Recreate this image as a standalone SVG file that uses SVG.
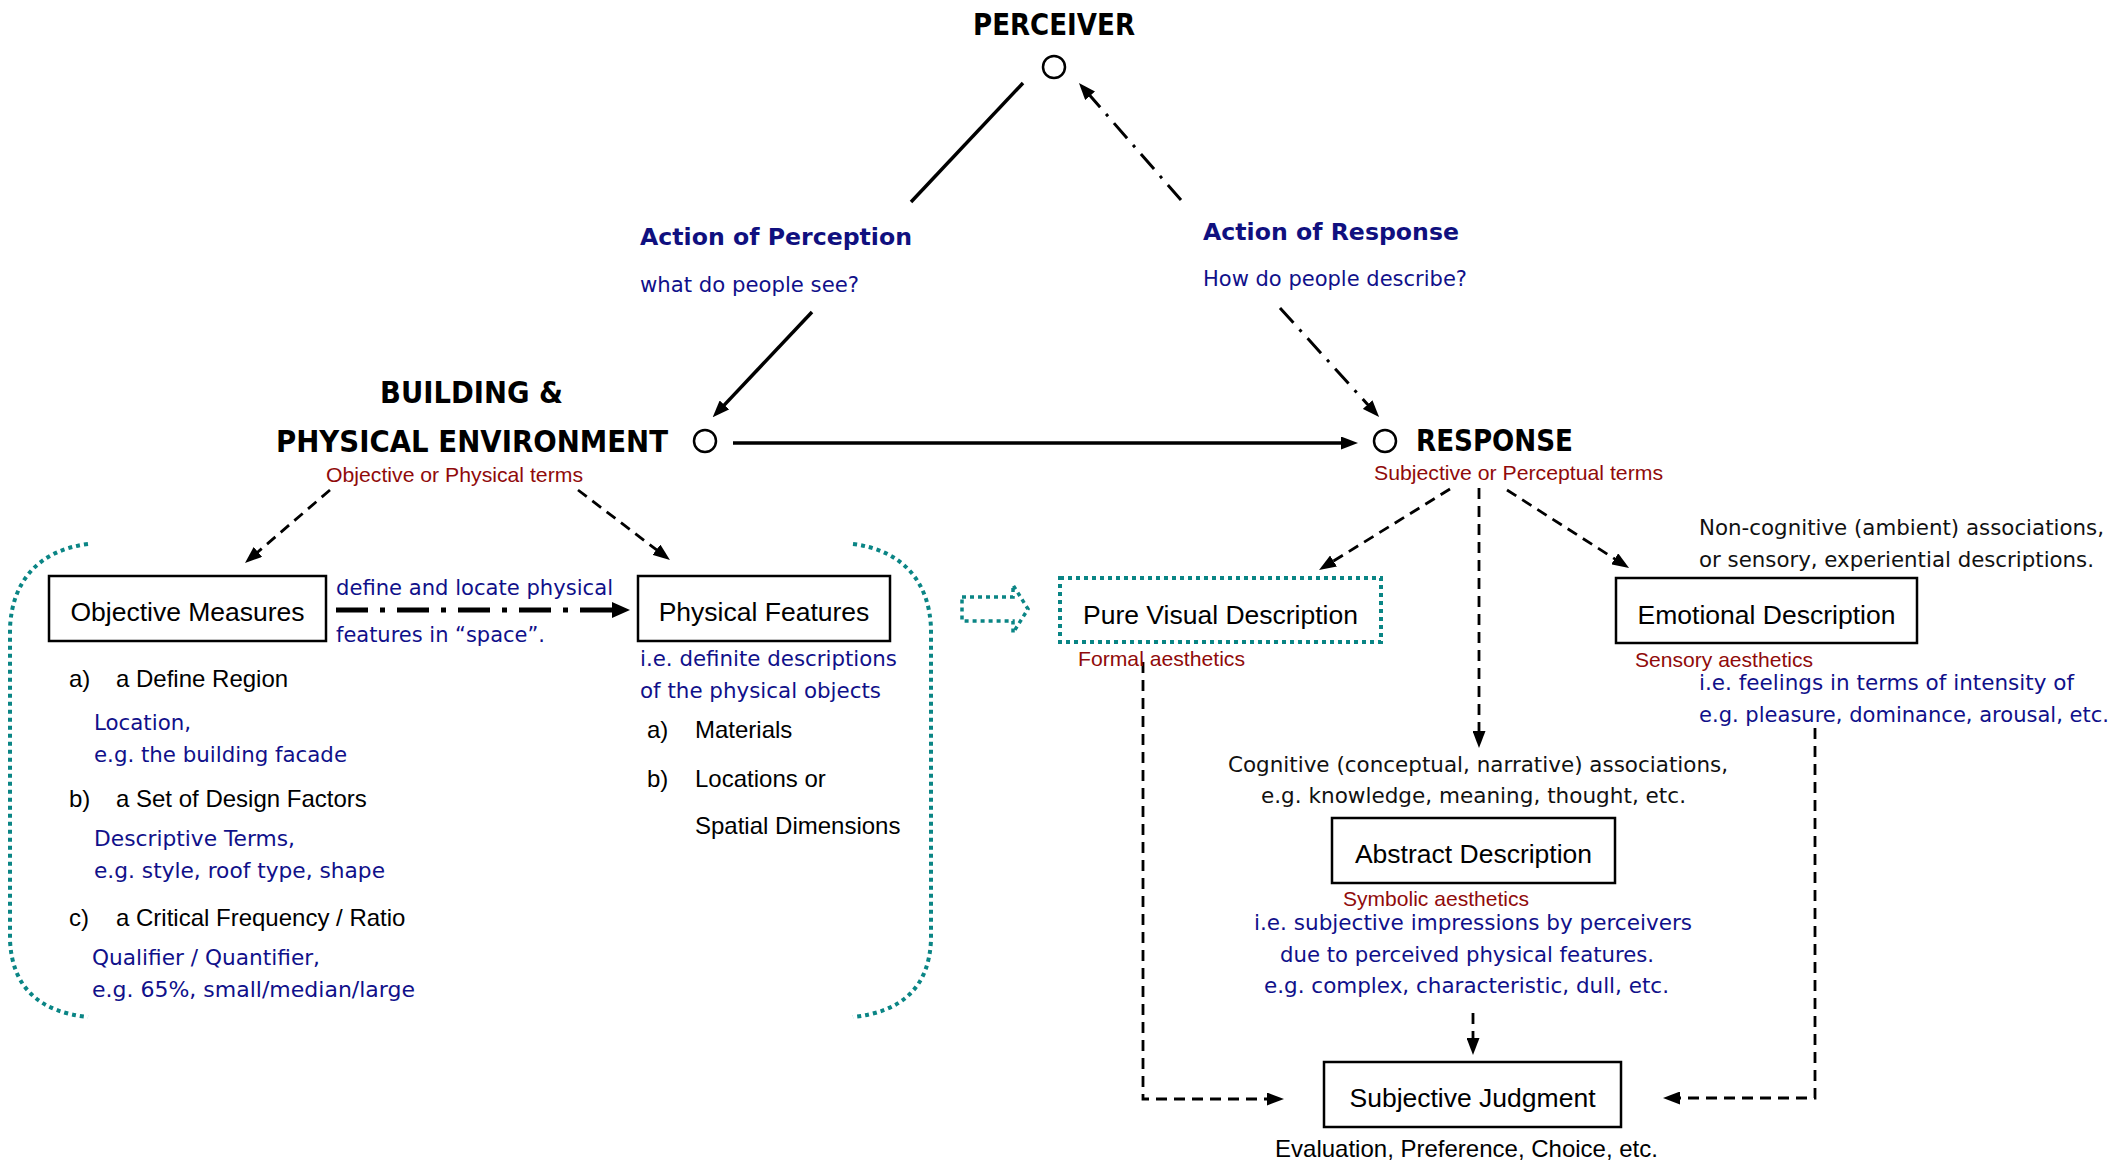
<svg xmlns="http://www.w3.org/2000/svg" width="2127" height="1161" viewBox="0 0 2127 1161">
  <style>
    .hd { font-family: "DejaVu Sans", "Liberation Sans", sans-serif; font-weight: bold; font-size: 30px; fill: #000; }
    .act { font-family: "DejaVu Sans", sans-serif; font-weight: bold; font-size: 23px; fill: #10107f; }
    .blue { font-family: "DejaVu Sans", sans-serif; font-size: 21.5px; fill: #10108a; }
    .note { font-family: "DejaVu Sans", sans-serif; font-size: 21.5px; fill: #111; }
    .red { font-family: "Liberation Sans", Arial, sans-serif; font-size: 21px; fill: #900a0a; }
    .lbl { font-family: "Liberation Sans", Arial, sans-serif; font-size: 26.5px; fill: #000; text-anchor: middle; }
    .item { font-family: "Liberation Sans", Arial, sans-serif; font-size: 24px; fill: #000; }
    .box { fill: #fff; stroke: #000; stroke-width: 2.5; }
    .tealdot { fill: none; stroke: #0a8585; stroke-width: 4; stroke-dasharray: 4 4; }
    .node { fill: #fff; stroke: #000; stroke-width: 2.5; }
    .solid { fill: none; stroke: #000; stroke-width: 3.5; }
    .dash { fill: none; stroke: #000; stroke-width: 2.8; stroke-dasharray: 11 7; }
    .dashdot { fill: none; stroke: #000; stroke-width: 3; stroke-dasharray: 20 9 3 9; }
    .heavy { fill: none; stroke: #000; stroke-width: 5; stroke-dasharray: 32 12 5 12; }
  </style>
  <defs>
    <marker id="ah" markerUnits="userSpaceOnUse" markerWidth="17" markerHeight="13" refX="2" refY="6.5" orient="auto">
      <path d="M0,0 L17,6.5 L0,13 z" fill="#000"/>
    </marker>
    <marker id="ahBig" markerUnits="userSpaceOnUse" markerWidth="18" markerHeight="16" refX="2" refY="8" orient="auto">
      <path d="M0,0 L18,8 L0,16 z" fill="#000"/>
    </marker>
  </defs>
  <rect width="2127" height="1161" fill="#fff"/>

  <!-- connectors -->
  <g id="connectors">
    <!-- perceiver to building (action of perception) -->
    <line class="solid" x1="1023" y1="83" x2="911" y2="202"/>
    <line class="solid" x1="812" y1="312" x2="723" y2="406.4" marker-end="url(#ah)"/>
    <!-- response back to perceiver (action of response) -->
    <line class="dashdot" x1="1181" y1="200" x2="1088.8" y2="94.3" marker-end="url(#ah)"/>
    <line class="dashdot" x1="1280" y1="308" x2="1369" y2="406" marker-end="url(#ah)"/>
    <!-- building to response -->
    <line class="solid" x1="733" y1="443" x2="1343" y2="443" marker-end="url(#ah)"/>
    <!-- objective terms branches -->
    <line class="dash" x1="330" y1="490" x2="256.4" y2="553.2" marker-end="url(#ah)"/>
    <line class="dash" x1="578" y1="490" x2="658" y2="550.9" marker-end="url(#ah)"/>
    <!-- objective measures to physical features -->
    <line class="heavy" x1="336" y1="610" x2="614" y2="610" marker-end="url(#ahBig)"/>
    <!-- subjective terms branches -->
    <line class="dash" x1="1450" y1="489" x2="1331.8" y2="562.1" marker-end="url(#ah)"/>
    <line class="dash" x1="1479" y1="488" x2="1479" y2="733" marker-end="url(#ah)"/>
    <line class="dash" x1="1507" y1="490" x2="1616.4" y2="559.9" marker-end="url(#ah)"/>
    <!-- descriptions to subjective judgment -->
    <polyline class="dash" points="1143,662 1143,1099 1269,1099" marker-end="url(#ah)"/>
    <polyline class="dash" points="1815,728 1815,1098 1678,1098" marker-end="url(#ah)"/>
    <line class="dash" x1="1473" y1="1013" x2="1473" y2="1040" marker-end="url(#ah)"/>
    <!-- hollow transfer arrow -->
    <polygon class="tealdot" style="stroke-width:3.5" points="962,597 1013,597 1013,585 1028,609 1013,633 1013,621 962,621"/>
  </g>

  <!-- top vertex -->
  <g id="perceiver">
    <text class="hd" x="1054" y="35" text-anchor="middle" textLength="162" lengthAdjust="spacingAndGlyphs">PERCEIVER</text>
    <circle class="node" cx="1054" cy="67" r="11"/>
  </g>

  <g id="action-perception">
    <text class="act" x="640" y="245" textLength="272" lengthAdjust="spacingAndGlyphs">Action of Perception</text>
    <text class="blue" x="640" y="292" textLength="219" lengthAdjust="spacingAndGlyphs">what do people see?</text>
  </g>

  <g id="action-response">
    <text class="act" x="1203" y="240" textLength="256" lengthAdjust="spacingAndGlyphs">Action of Response</text>
    <text class="blue" x="1203" y="286" textLength="264" lengthAdjust="spacingAndGlyphs">How do people describe?</text>
  </g>

  <!-- left vertex -->
  <g id="building">
    <text class="hd" x="380" y="403" textLength="183" lengthAdjust="spacingAndGlyphs">BUILDING &amp;</text>
    <text class="hd" x="276" y="452" textLength="392" lengthAdjust="spacingAndGlyphs">PHYSICAL ENVIRONMENT</text>
    <circle class="node" cx="705" cy="441" r="11"/>
    <text class="red" x="326" y="482" textLength="257" lengthAdjust="spacingAndGlyphs">Objective or Physical terms</text>
  </g>

  <!-- right vertex -->
  <g id="response">
    <circle class="node" cx="1385" cy="441" r="11"/>
    <text class="hd" x="1416" y="451" textLength="157" lengthAdjust="spacingAndGlyphs">RESPONSE</text>
    <text class="red" x="1374" y="480" textLength="289" lengthAdjust="spacingAndGlyphs">Subjective or Perceptual terms</text>
  </g>

  <!-- objective side bracket -->
  <g id="objective-group">
    <path class="tealdot" d="M88,544 C40,550 12,580 10,628 L10,940 C12,988 40,1012 88,1017"/>
    <path class="tealdot" d="M853,544 C901,550 929,580 931,628 L931,940 C929,988 901,1012 853,1017"/>
  </g>

  <g id="objective-measures">
    <rect class="box" x="49" y="576" width="277" height="65"/>
    <text class="lbl" x="187.5" y="621">Objective Measures</text>
    <text class="item" x="69" y="687">a)</text>
    <text class="item" x="116" y="687">a Define Region</text>
    <text class="blue" x="94" y="730" textLength="97" lengthAdjust="spacingAndGlyphs">Location,</text>
    <text class="blue" x="94" y="762" textLength="253" lengthAdjust="spacingAndGlyphs">e.g. the building facade</text>
    <text class="item" x="69" y="807">b)</text>
    <text class="item" x="116" y="807">a Set of Design Factors</text>
    <text class="blue" x="94" y="846" textLength="201" lengthAdjust="spacingAndGlyphs">Descriptive Terms,</text>
    <text class="blue" x="94" y="878" textLength="291" lengthAdjust="spacingAndGlyphs">e.g. style, roof type, shape</text>
    <text class="item" x="69" y="926">c)</text>
    <text class="item" x="116" y="926">a Critical Frequency / Ratio</text>
    <text class="blue" x="92" y="965" textLength="228" lengthAdjust="spacingAndGlyphs">Qualifier / Quantifier,</text>
    <text class="blue" x="92" y="997" textLength="323" lengthAdjust="spacingAndGlyphs">e.g. 65%, small/median/large</text>
  </g>

  <g id="define-locate">
    <text class="blue" x="336" y="595" textLength="277" lengthAdjust="spacingAndGlyphs">define and locate physical</text>
    <text class="blue" x="336" y="642" textLength="209" lengthAdjust="spacingAndGlyphs">features in “space”.</text>
  </g>

  <g id="physical-features">
    <rect class="box" x="638" y="576" width="252" height="65"/>
    <text class="lbl" x="764" y="621">Physical Features</text>
    <text class="blue" x="640" y="666" textLength="257" lengthAdjust="spacingAndGlyphs">i.e. definite descriptions</text>
    <text class="blue" x="640" y="698" textLength="241" lengthAdjust="spacingAndGlyphs">of the physical objects</text>
    <text class="item" x="647" y="738">a)</text>
    <text class="item" x="695" y="738">Materials</text>
    <text class="item" x="647" y="787">b)</text>
    <text class="item" x="695" y="787">Locations or</text>
    <text class="item" x="695" y="834">Spatial Dimensions</text>
  </g>

  <g id="pure-visual">
    <rect class="tealdot" x="1060" y="578" width="321" height="64" fill="#fff"/>
    <text class="lbl" x="1220.5" y="624">Pure Visual Description</text>
    <text class="red" x="1078" y="666" textLength="167" lengthAdjust="spacingAndGlyphs">Formal aesthetics</text>
  </g>

  <g id="emotional">
    <text class="note" x="1699" y="535" textLength="405" lengthAdjust="spacingAndGlyphs">Non-cognitive (ambient) associations,</text>
    <text class="note" x="1699" y="567" textLength="395" lengthAdjust="spacingAndGlyphs">or sensory, experiential descriptions.</text>
    <rect class="box" x="1616" y="578" width="301" height="65"/>
    <text class="lbl" x="1766.5" y="624">Emotional Description</text>
    <text class="red" x="1635" y="667" textLength="178" lengthAdjust="spacingAndGlyphs">Sensory aesthetics</text>
    <text class="blue" x="1699" y="690" textLength="375" lengthAdjust="spacingAndGlyphs">i.e. feelings in terms of intensity of</text>
    <text class="blue" x="1699" y="722" textLength="410" lengthAdjust="spacingAndGlyphs">e.g. pleasure, dominance, arousal, etc.</text>
  </g>

  <g id="abstract">
    <text class="note" x="1478" y="772" text-anchor="middle" textLength="500" lengthAdjust="spacingAndGlyphs">Cognitive (conceptual, narrative) associations,</text>
    <text class="note" x="1473.5" y="803" text-anchor="middle" textLength="425" lengthAdjust="spacingAndGlyphs">e.g. knowledge, meaning, thought, etc.</text>
    <rect class="box" x="1332" y="818" width="283" height="65"/>
    <text class="lbl" x="1473.5" y="863">Abstract Description</text>
    <text class="red" x="1343" y="906" textLength="186" lengthAdjust="spacingAndGlyphs">Symbolic aesthetics</text>
    <text class="blue" x="1473" y="930" text-anchor="middle" textLength="438" lengthAdjust="spacingAndGlyphs">i.e. subjective impressions by perceivers</text>
    <text class="blue" x="1467" y="962" text-anchor="middle" textLength="374" lengthAdjust="spacingAndGlyphs">due to perceived physical features.</text>
    <text class="blue" x="1466.5" y="993" text-anchor="middle" textLength="405" lengthAdjust="spacingAndGlyphs">e.g. complex, characteristic, dull, etc.</text>
  </g>

  <g id="judgment">
    <rect class="box" x="1324" y="1062" width="297" height="65"/>
    <text class="lbl" x="1472.5" y="1107">Subjective Judgment</text>
    <text class="item" x="1466.5" y="1157" text-anchor="middle">Evaluation, Preference, Choice, etc.</text>
  </g>
</svg>
